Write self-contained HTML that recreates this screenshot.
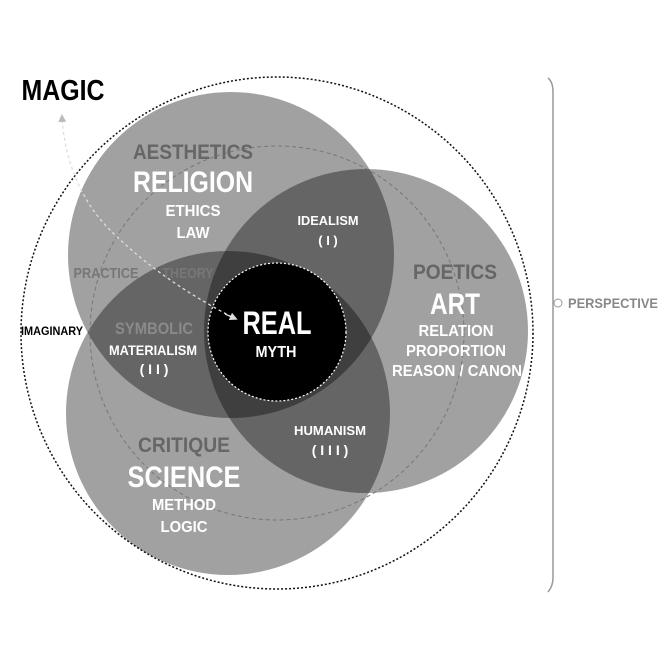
<!DOCTYPE html>
<html><head><meta charset="utf-8"><style>
html,body{margin:0;padding:0;background:#fff}
svg{display:block}
text{font-family:"Liberation Sans Narrow","Liberation Sans",sans-serif;font-weight:bold;text-anchor:middle}
</style></head><body>
<svg width="666" height="666" viewBox="0 0 666 666" xmlns="http://www.w3.org/2000/svg">
<defs>
<marker id="ah" markerWidth="8" markerHeight="8" refX="4" refY="4" orient="auto" markerUnits="userSpaceOnUse"><path d="M0,0 L8,4 L0,8 z" fill="#ddd"/></marker>
<marker id="ah2" markerWidth="8" markerHeight="8" refX="4" refY="4" orient="auto" markerUnits="userSpaceOnUse"><path d="M0,0 L8,4 L0,8 z" fill="#bbb"/></marker>
</defs>
<circle cx="277" cy="333" r="256" fill="none" stroke="#111" stroke-width="1.5" stroke-dasharray="2,2"/>
<g fill="#000" fill-opacity="0.37">
<circle cx="231" cy="255" r="163"/>
<circle cx="366" cy="331" r="162"/>
<circle cx="228" cy="413" r="162"/>
</g>
<circle cx="277" cy="333" r="187" fill="none" stroke="#777" stroke-width="1" stroke-dasharray="4,3"/>
<circle cx="277" cy="332" r="69" fill="#000" stroke="#fff" stroke-width="1.2" stroke-dasharray="2,2"/>
<path d="M232,317 C180,290 140,260 110,230 C80,200 65,160 62,118" fill="none" stroke="#ddd" stroke-width="1.3" stroke-dasharray="3,3" marker-end="url(#ah2)"/>
<path d="M225,314 L234,318" stroke="#ddd" stroke-width="1.3" marker-end="url(#ah)"/>
<path d="M548,78 Q553,82 553,92 L553,578 Q553,586 548,592" fill="none" stroke="#999" stroke-width="1.5"/>
<circle cx="558" cy="303" r="4" fill="none" stroke="#999" stroke-width="1"/>
<text x="613" y="308" font-size="14" fill="#888" textLength="90" lengthAdjust="spacingAndGlyphs">PERSPECTIVE</text>
<text x="63" y="100" font-size="29" fill="#000" textLength="83" lengthAdjust="spacingAndGlyphs">MAGIC</text>
<text x="52" y="335" font-size="12" fill="#000" textLength="62" lengthAdjust="spacingAndGlyphs">IMAGINARY</text>
<text x="193" y="159" font-size="21" fill="#666" textLength="120" lengthAdjust="spacingAndGlyphs">AESTHETICS</text>
<text x="193" y="192" font-size="30" fill="#fff" textLength="120" lengthAdjust="spacingAndGlyphs">RELIGION</text>
<text x="193" y="216" font-size="16" fill="#fff" textLength="55" lengthAdjust="spacingAndGlyphs">ETHICS</text>
<text x="193" y="238" font-size="16" fill="#fff" textLength="33" lengthAdjust="spacingAndGlyphs">LAW</text>
<text x="328" y="225" font-size="13" fill="#fff" textLength="61" lengthAdjust="spacingAndGlyphs">IDEALISM</text>
<text x="328" y="245" font-size="13" fill="#fff">( I )</text>
<text x="106" y="278" font-size="15" fill="#777" textLength="65" lengthAdjust="spacingAndGlyphs">PRACTICE</text>
<text x="188" y="278" font-size="15" fill="#777" textLength="51" lengthAdjust="spacingAndGlyphs">THEORY</text>
<text x="154" y="334" font-size="17" fill="#8a8a8a" textLength="78" lengthAdjust="spacingAndGlyphs">SYMBOLIC</text>
<text x="153" y="355" font-size="14" fill="#fff" textLength="88" lengthAdjust="spacingAndGlyphs">MATERIALISM</text>
<text x="154" y="374" font-size="14" fill="#fff">( I I )</text>
<text x="277" y="334" font-size="32" fill="#fff" textLength="69" lengthAdjust="spacingAndGlyphs">REAL</text>
<text x="276" y="357" font-size="16" fill="#fff" textLength="41" lengthAdjust="spacingAndGlyphs">MYTH</text>
<text x="455" y="279" font-size="21" fill="#666" textLength="84" lengthAdjust="spacingAndGlyphs">POETICS</text>
<text x="455" y="314" font-size="30" fill="#fff" textLength="50" lengthAdjust="spacingAndGlyphs">ART</text>
<text x="456" y="336" font-size="16" fill="#fff" textLength="75" lengthAdjust="spacingAndGlyphs">RELATION</text>
<text x="456" y="356" font-size="16" fill="#fff" textLength="100" lengthAdjust="spacingAndGlyphs">PROPORTION</text>
<text x="457" y="376" font-size="16" fill="#fff" textLength="130" lengthAdjust="spacingAndGlyphs">REASON / CANON</text>
<text x="330" y="435" font-size="13" fill="#fff" textLength="72" lengthAdjust="spacingAndGlyphs">HUMANISM</text>
<text x="330" y="455" font-size="14" fill="#fff">( I I I )</text>
<text x="184" y="452" font-size="21" fill="#666" textLength="92" lengthAdjust="spacingAndGlyphs">CRITIQUE</text>
<text x="184" y="487" font-size="30" fill="#fff" textLength="113" lengthAdjust="spacingAndGlyphs">SCIENCE</text>
<text x="184" y="510" font-size="16" fill="#fff" textLength="64" lengthAdjust="spacingAndGlyphs">METHOD</text>
<text x="184" y="532" font-size="16" fill="#fff" textLength="47" lengthAdjust="spacingAndGlyphs">LOGIC</text>
</svg>
</body></html>
